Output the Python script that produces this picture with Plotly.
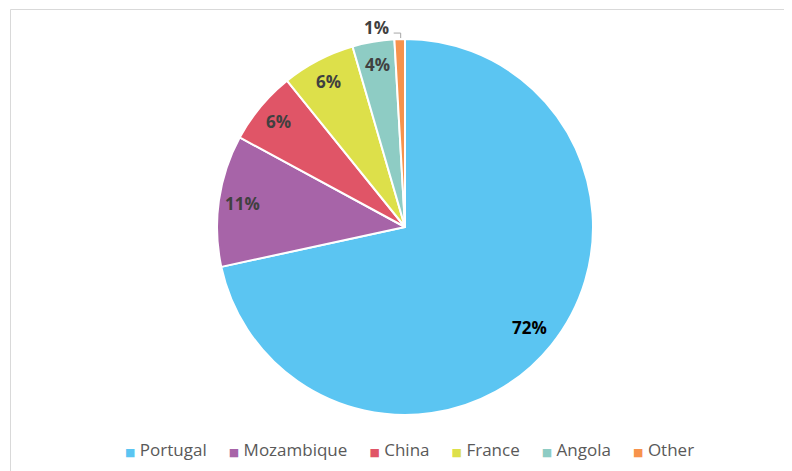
import math
import plotly.graph_objects as go

categories = ["Portugal", "Mozambique", "China", "France", "Angola", "Other"]
shares = [71.6, 11.3, 6.3, 6.3, 3.6, 0.9]
colors = ["#5BC5F2", "#A764A8", "#E05567", "#DDE04A", "#8ECCC4", "#F7934C"]
label_colors = ["#000000", "#404040", "#404040", "#404040", "#404040", "#404040"]
label_outside = [False, False, False, False, False, True]

W, H = 792, 471
OFF = 8            # page body margin
cx, cy, r = 405 - OFF, 227 - OFF, 188   # pie centre / radius in figure px


def px(x):
    return x / W


def py(y):
    return 1 - y / H


fig = go.Figure(go.Pie(
    labels=categories,
    values=shares,
    sort=False,
    direction="clockwise",
    rotation=0,
    marker=dict(colors=colors, line=dict(color="#FFFFFF", width=2)),
    textinfo="none",
    domain=dict(x=[px(cx - r), px(cx + r)], y=[py(cy + r), py(cy - r)]),
    hoverinfo="label+percent",
    showlegend=False,
))

# data labels placed along each slice's mid-angle
total = sum(shares)
cum = 0
for name, v, col, outside in zip(categories, shares, label_colors, label_outside):
    mid = (cum + v / 2) / total * 2 * math.pi
    cum += v
    s, c = math.sin(mid), math.cos(mid)
    pct = f"<b>{round(v / total * 100):.0f}%</b>"
    if not outside:
        rho = 0.85 if v > 50 else 0.875
        x, y = cx + rho * r * s, cy - rho * r * c
        fig.add_annotation(x=px(x), y=py(y), xref="paper", yref="paper",
                           xanchor="center", yanchor="middle",
                           text=pct, showarrow=False,
                           font=dict(family="Open Sans", size=17, color=col))
    else:
        ex, ey = cx + r * s, cy - r * c          # slice edge
        ky = ey - 6                               # elbow height
        fig.add_shape(type="path", xref="paper", yref="paper",
                      path=f"M {px(ex - 6)} {py(ky)} L {px(ex + 1)} {py(ky)} L {px(ex + 1)} {py(ey - 1)}",
                      line=dict(color="#A6A6A6", width=1))
        fig.add_annotation(x=px(ex - 23), y=py(ey - 12), xref="paper", yref="paper",
                           xanchor="center", yanchor="middle",
                           text=pct, showarrow=False,
                           font=dict(family="Open Sans", size=17, color=col))

# legend row
sp = "\u00a0"
items = [f"<span style='color:{c};font-size:11px;font-family:DejaVu Sans'>■</span>{sp}{n}"
         for n, c in zip(categories, colors)]
fig.add_annotation(x=px(409.5 - OFF), y=py(449 - OFF), xref="paper", yref="paper",
                   xanchor="center", yanchor="middle",
                   text=(sp * 5).join(items), showarrow=False,
                   font=dict(family="Open Sans", size=17, color="#595959"))

# chart frame
fig.add_shape(type="rect", xref="paper", yref="paper",
              x0=px(2.5), x1=1.05, y0=-0.05, y1=py(1.5),
              line=dict(color="#D9D9D9", width=1), fillcolor="rgba(0,0,0,0)", layer="below")

fig.update_layout(
    width=W, height=H,
    margin=dict(l=0, r=0, t=0, b=0),
    paper_bgcolor="#FFFFFF",
    plot_bgcolor="#FFFFFF",
    font=dict(family="Open Sans", color="#595959"),
    showlegend=False,
)

fig.write_html("out.html")
